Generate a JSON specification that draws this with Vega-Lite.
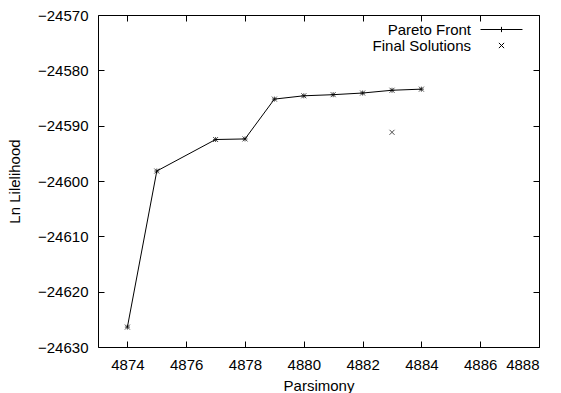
{
  "$schema": "https://vega.github.io/schema/vega-lite/v6.json",
  "width": 441,
  "height": 332,
  "autosize": {"type": "none"},
  "padding": {"left": 98, "top": 15, "right": 22, "bottom": 46},
  "background": "white",
  "config": {
    "font": "Liberation Sans",
    "view": {"stroke": "black", "strokeWidth": 1},
    "axis": {"grid": false, "domain": false, "tickColor": "black", "tickSize": -6, "tickWidth": 1, "labelFontSize": 15, "labelColor": "black", "titleFontSize": 15, "titleFontWeight": "normal", "titleColor": "black"}
  },
  "data": {
    "values": [
      {"parsimony": 4874, "lnl": -24626.4, "series": "Pareto Front"},
      {"parsimony": 4875, "lnl": -24598.2, "series": "Pareto Front"},
      {"parsimony": 4877, "lnl": -24592.5, "series": "Pareto Front"},
      {"parsimony": 4878, "lnl": -24592.4, "series": "Pareto Front"},
      {"parsimony": 4879, "lnl": -24585.2, "series": "Pareto Front"},
      {"parsimony": 4880, "lnl": -24584.6, "series": "Pareto Front"},
      {"parsimony": 4881, "lnl": -24584.4, "series": "Pareto Front"},
      {"parsimony": 4882, "lnl": -24584.1, "series": "Pareto Front"},
      {"parsimony": 4883, "lnl": -24583.6, "series": "Pareto Front"},
      {"parsimony": 4884, "lnl": -24583.4, "series": "Pareto Front"},
      {"parsimony": 4874, "lnl": -24626.4, "series": "Final Solutions"},
      {"parsimony": 4875, "lnl": -24598.2, "series": "Final Solutions"},
      {"parsimony": 4877, "lnl": -24592.5, "series": "Final Solutions"},
      {"parsimony": 4878, "lnl": -24592.4, "series": "Final Solutions"},
      {"parsimony": 4879, "lnl": -24585.2, "series": "Final Solutions"},
      {"parsimony": 4880, "lnl": -24584.6, "series": "Final Solutions"},
      {"parsimony": 4881, "lnl": -24584.4, "series": "Final Solutions"},
      {"parsimony": 4882, "lnl": -24584.1, "series": "Final Solutions"},
      {"parsimony": 4883, "lnl": -24583.6, "series": "Final Solutions"},
      {"parsimony": 4884, "lnl": -24583.4, "series": "Final Solutions"},
      {"parsimony": 4883, "lnl": -24591.2, "series": "Final Solutions"}
    ]
  },
  "resolve": {"axis": {"x": "independent", "y": "independent"}},
  "layer": [
    {
      "transform": [{"filter": "datum.series == 'Pareto Front'"}],
      "mark": {"type": "line", "color": "black", "strokeWidth": 1},
      "encoding": {
        "x": {"field": "parsimony", "type": "quantitative", "scale": {"domain": [4873, 4888], "nice": false, "zero": false},
          "axis": {"orient": "bottom", "title": "Parsimony", "values": [4874, 4876, 4878, 4880, 4882, 4884, 4886, 4888], "format": "d", "labelPadding": 16, "titlePadding": 6}},
        "y": {"field": "lnl", "type": "quantitative", "scale": {"domain": [-24630, -24570], "nice": false, "zero": false},
          "axis": {"orient": "left", "title": "Ln Lilelihood", "values": [-24630, -24620, -24610, -24600, -24590, -24580, -24570], "format": "d", "labelPadding": 16, "titlePadding": 15}}
      }
    },
    {
      "transform": [{"filter": "datum.series == 'Pareto Front'"}],
      "mark": {"type": "point", "shape": "M-1,0H1M0,-1V1", "size": 25, "stroke": "black", "strokeWidth": 1, "filled": false},
      "encoding": {
        "x": {"field": "parsimony", "type": "quantitative", "axis": null},
        "y": {"field": "lnl", "type": "quantitative", "axis": null}
      }
    },
    {
      "transform": [{"filter": "datum.series == 'Final Solutions'"}],
      "mark": {"type": "point", "shape": "M-1,-1L1,1M-1,1L1,-1", "size": 25, "stroke": "black", "strokeWidth": 1, "filled": false},
      "encoding": {
        "x": {"field": "parsimony", "type": "quantitative", "axis": null},
        "y": {"field": "lnl", "type": "quantitative", "axis": null}
      }
    },
    {
      "mark": {"type": "point", "opacity": 0, "filled": false},
      "encoding": {
        "x": {"field": "parsimony", "type": "quantitative", "axis": null},
        "y": {"field": "lnl", "type": "quantitative", "axis": null},
        "shape": {"field": "series", "type": "nominal",
          "scale": {"domain": ["Pareto Front", "Final Solutions"], "range": ["M-4,0H4M0,-0.5V0.5", "M-0.5,-0.5L0.5,0.5M-0.5,0.5L0.5,-0.5"]},
          "legend": {"orient": "none", "legendX": 396, "legendY": 7, "title": null, "padding": 0, "rowPadding": 0, "symbolSize": 110, "symbolOpacity": 1, "symbolStrokeColor": "black", "symbolFillColor": "transparent", "symbolStrokeWidth": 1, "labelAlign": "right", "labelOffset": -38, "labelFontSize": 15, "labelColor": "black", "labelFont": "Liberation Sans"}}
      }
    },
    {
      "mark": {"type": "point", "opacity": 0},
      "encoding": {
        "x": {"field": "parsimony", "type": "quantitative",
          "axis": {"orient": "top", "title": null, "labels": false, "values": [4874, 4876, 4878, 4880, 4882, 4884, 4886, 4888]}},
        "y": {"field": "lnl", "type": "quantitative",
          "axis": {"orient": "right", "title": null, "labels": false, "values": [-24630, -24620, -24610, -24600, -24590, -24580, -24570]}}
      }
    }
  ]
}
